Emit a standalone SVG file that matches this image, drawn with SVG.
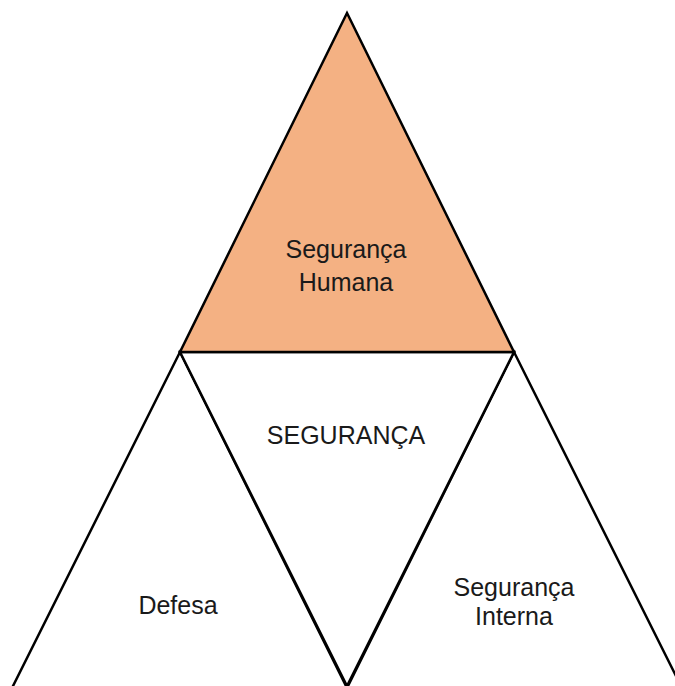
<svg xmlns="http://www.w3.org/2000/svg" width="675" height="686" viewBox="0 0 675 686">
<style>
.tri{stroke:#000;stroke-width:2.5;stroke-linejoin:miter}
.lbl{font-family:"Liberation Sans",Arial,sans-serif;font-size:25px;fill:#1a1a1a;text-anchor:middle}
</style>
<rect width="675" height="686" fill="#fff"/>
<g id="defesa">
<polygon class="tri" points="180,352 12,688 347,688" fill="#fff"/>
<text class="lbl" x="178" y="614">Defesa</text>
</g>
<g id="seguranca-interna">
<polygon class="tri" points="514,352 347,688 682,688" fill="#fff"/>
<text class="lbl" x="514" y="596">Segurança</text>
<text class="lbl" x="514" y="625">Interna</text>
</g>
<g id="seguranca">
<polygon class="tri" points="180,352 514,352 347,686" fill="#fff"/>
<text class="lbl" x="346" y="444">SEGURANÇA</text>
</g>
<g id="seguranca-humana">
<polygon class="tri" points="347,13 514,352 180,352" fill="#F4B183"/>
<text class="lbl" x="346" y="258">Segurança</text>
<text class="lbl" x="346" y="291">Humana</text>
</g>
</svg>
